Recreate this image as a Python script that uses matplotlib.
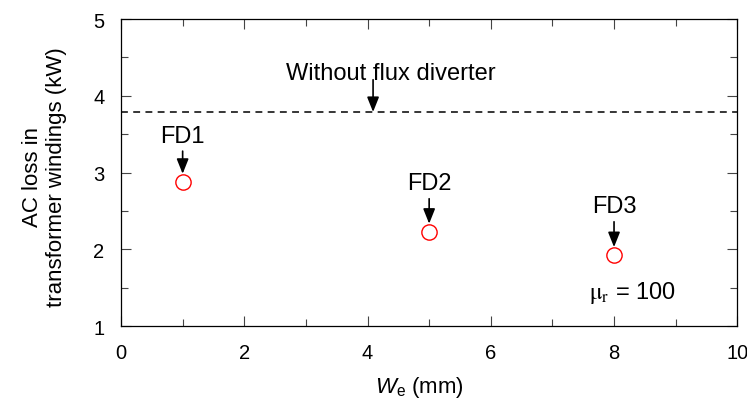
import matplotlib
matplotlib.use("Agg")
import matplotlib.pyplot as plt
from matplotlib.ticker import MultipleLocator

plt.rcParams['font.family'] = ['Liberation Sans', 'DejaVu Sans']
plt.rcParams['mathtext.fontset'] = 'custom'
plt.rcParams['mathtext.rm'] = 'Liberation Sans'
plt.rcParams['mathtext.it'] = 'Liberation Sans:italic'

# flux diverter cases
we_mm = [1, 5, 8]
ac_loss_kw = [2.88, 2.23, 1.925]
fd_names = ['FD1', 'FD2', 'FD3']
fd_label_y = [3.48, 2.86, 2.56]
no_diverter_kw = 3.79

fig = plt.figure(figsize=(7.47, 4.10), dpi=100)
ax = fig.add_axes([0.162, 0.202, 0.825, 0.749])

ax.axhline(no_diverter_kw, color='black', linestyle=(0, (4.5, 3.5)), linewidth=1.1)
ax.plot(we_mm, ac_loss_kw, linestyle='none', marker='o', markersize=11,
        markerfacecolor='none', markeredgecolor='red', markeredgewidth=1.0)

arrow = dict(arrowstyle='-|>,head_length=0.45,head_width=0.18', color='black',
             lw=1.2, mutation_scale=20, shrinkA=0, shrinkB=0)
for x, y, name, ly in zip(we_mm, ac_loss_kw, fd_names, fd_label_y):
    ax.annotate('', xy=(x, y + 0.105), xytext=(x, ly - 0.2), arrowprops=arrow)
    ax.text(x, ly, name, ha='center', va='center', fontsize=17)

ax.annotate('', xy=(4.09, no_diverter_kw), xytext=(4.09, 4.21),
            arrowprops=arrow)
ax.text(4.37, 4.30, 'Without flux diverter', ha='center', va='center',
        fontsize=17)
ax.text(8.3, 1.44, r'$\mathrm{\mu_r}$ = 100', ha='center', va='center',
        fontsize=17, math_fontfamily='stix')

ax.set_xlim(0, 10)
ax.set_ylim(1, 5)
ax.xaxis.set_major_locator(MultipleLocator(2))
ax.xaxis.set_minor_locator(MultipleLocator(1))
ax.yaxis.set_major_locator(MultipleLocator(1))
ax.yaxis.set_minor_locator(MultipleLocator(0.5))
ax.tick_params(which='both', direction='in', top=True, right=True,
               labelsize=14.5, width=0.8, color='#444444')
ax.tick_params(axis='x', which='both', pad=12)
ax.tick_params(axis='y', which='both', pad=12)
ax.tick_params(which='major', length=7)
ax.tick_params(which='minor', length=5)
for s in ax.spines.values():
    s.set_linewidth(0.9)

ax.set_xlabel(r'$W_\mathrm{e}$ (mm)', fontsize=16)
ax.set_ylabel('AC loss in\ntransformer windings (kW)', fontsize=16,
              linespacing=1.2)
ax.xaxis.set_label_coords(0.485, -0.155)
ax.yaxis.set_label_coords(-0.088, 0.49)

fig.savefig('out.png', dpi=100)
